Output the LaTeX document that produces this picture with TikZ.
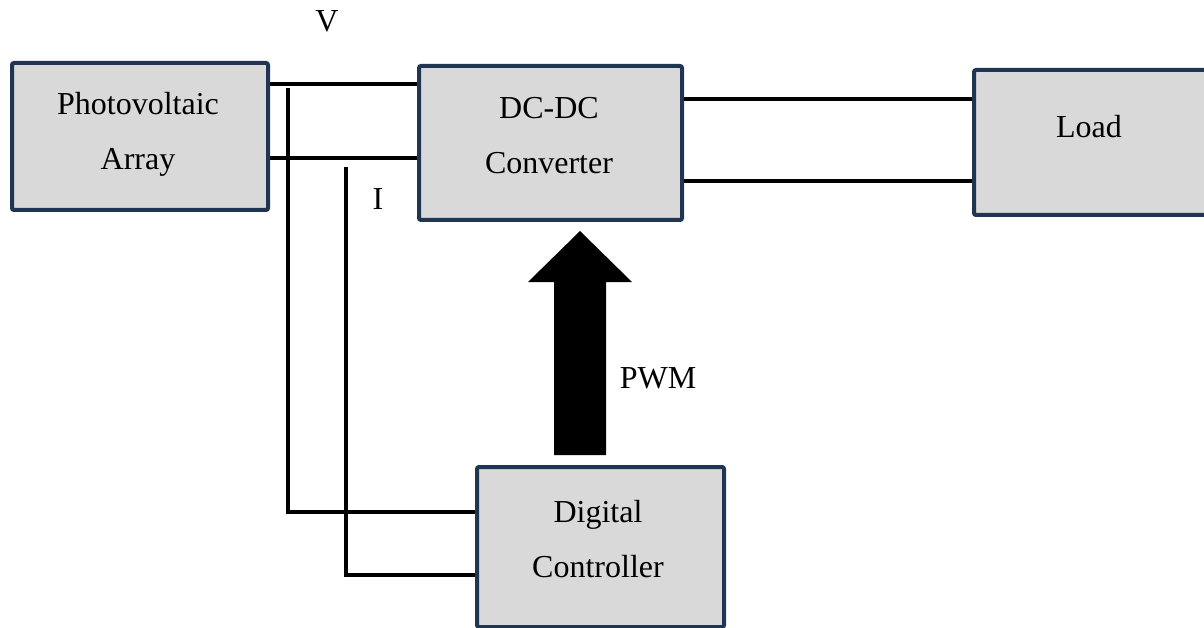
\documentclass[tikz,border=0pt]{standalone}
\usepackage{fontspec}
\setmainfont{Liberation Serif}
\definecolor{boxborder}{HTML}{1F3552}
\definecolor{boxfill}{HTML}{D9D9D9}
\tikzset{
  blk/.style={draw=boxborder, fill=boxfill, line width=4pt, rounded corners=2pt, inner sep=0pt, anchor=north west},
  txt/.style={font=\fontsize{32}{55}\selectfont, align=center, inner sep=0pt},
  wire/.style={line width=4.5pt, black},
}
\begin{document}
\begin{tikzpicture}[x=1pt,y=-1pt]
\clip (0,0) rectangle (1204,628);
\useasboundingbox (0,0) rectangle (1204,628);
% blocks
\node[blk, minimum width=256pt, minimum height=147pt] (pv) at (10,61) {};
\node[blk, minimum width=263pt, minimum height=154pt] (dc) at (417,64) {};
\node[blk, minimum width=250pt, minimum height=145pt] (load) at (972,68) {};
\node[blk, minimum width=247pt, minimum height=160pt] (dig) at (475,465) {};
% texts
\node[txt] (pvtxt) at (138,134) {Photovoltaic\\Array};
\node[txt] (dctxt) at (549,136) {DC-DC\\Converter};
\node[txt] (loadtxt) at (1089,127) {Load};
\node[txt] (digtxt) at (598,539) {Digital\\Controller};
\node[txt] (vlbl) at (327,21) {V};
\node[txt] (ilbl) at (378,199) {I};
\node[txt] (pwmlbl) at (658,378) {PWM};
% wires PV -> DC
\draw[wire] (pv.east |- 0,84) -- (dc.west |- 0,84);
\draw[wire] (pv.east |- 0,158) -- (dc.west |- 0,158);
% wires DC -> Load
\draw[wire] (dc.east |- 0,99) -- (load.west |- 0,99);
\draw[wire] (dc.east |- 0,181) -- (load.west |- 0,181);
% sense lines to controller
\coordinate (vtap) at (288,88);
\coordinate (itap) at (346,167);
\draw[wire] (vtap) -- (288,512) -- (dig.west |- 0,512);
\draw[wire] (itap) -- (346,575) -- (dig.west |- 0,575);
% PWM arrow
\fill[black] (554,455) -- (554,282) -- (528,282) -- (580,231) -- (632,282) -- (606,282) -- (606,455) -- cycle;
\end{tikzpicture}
\end{document}
